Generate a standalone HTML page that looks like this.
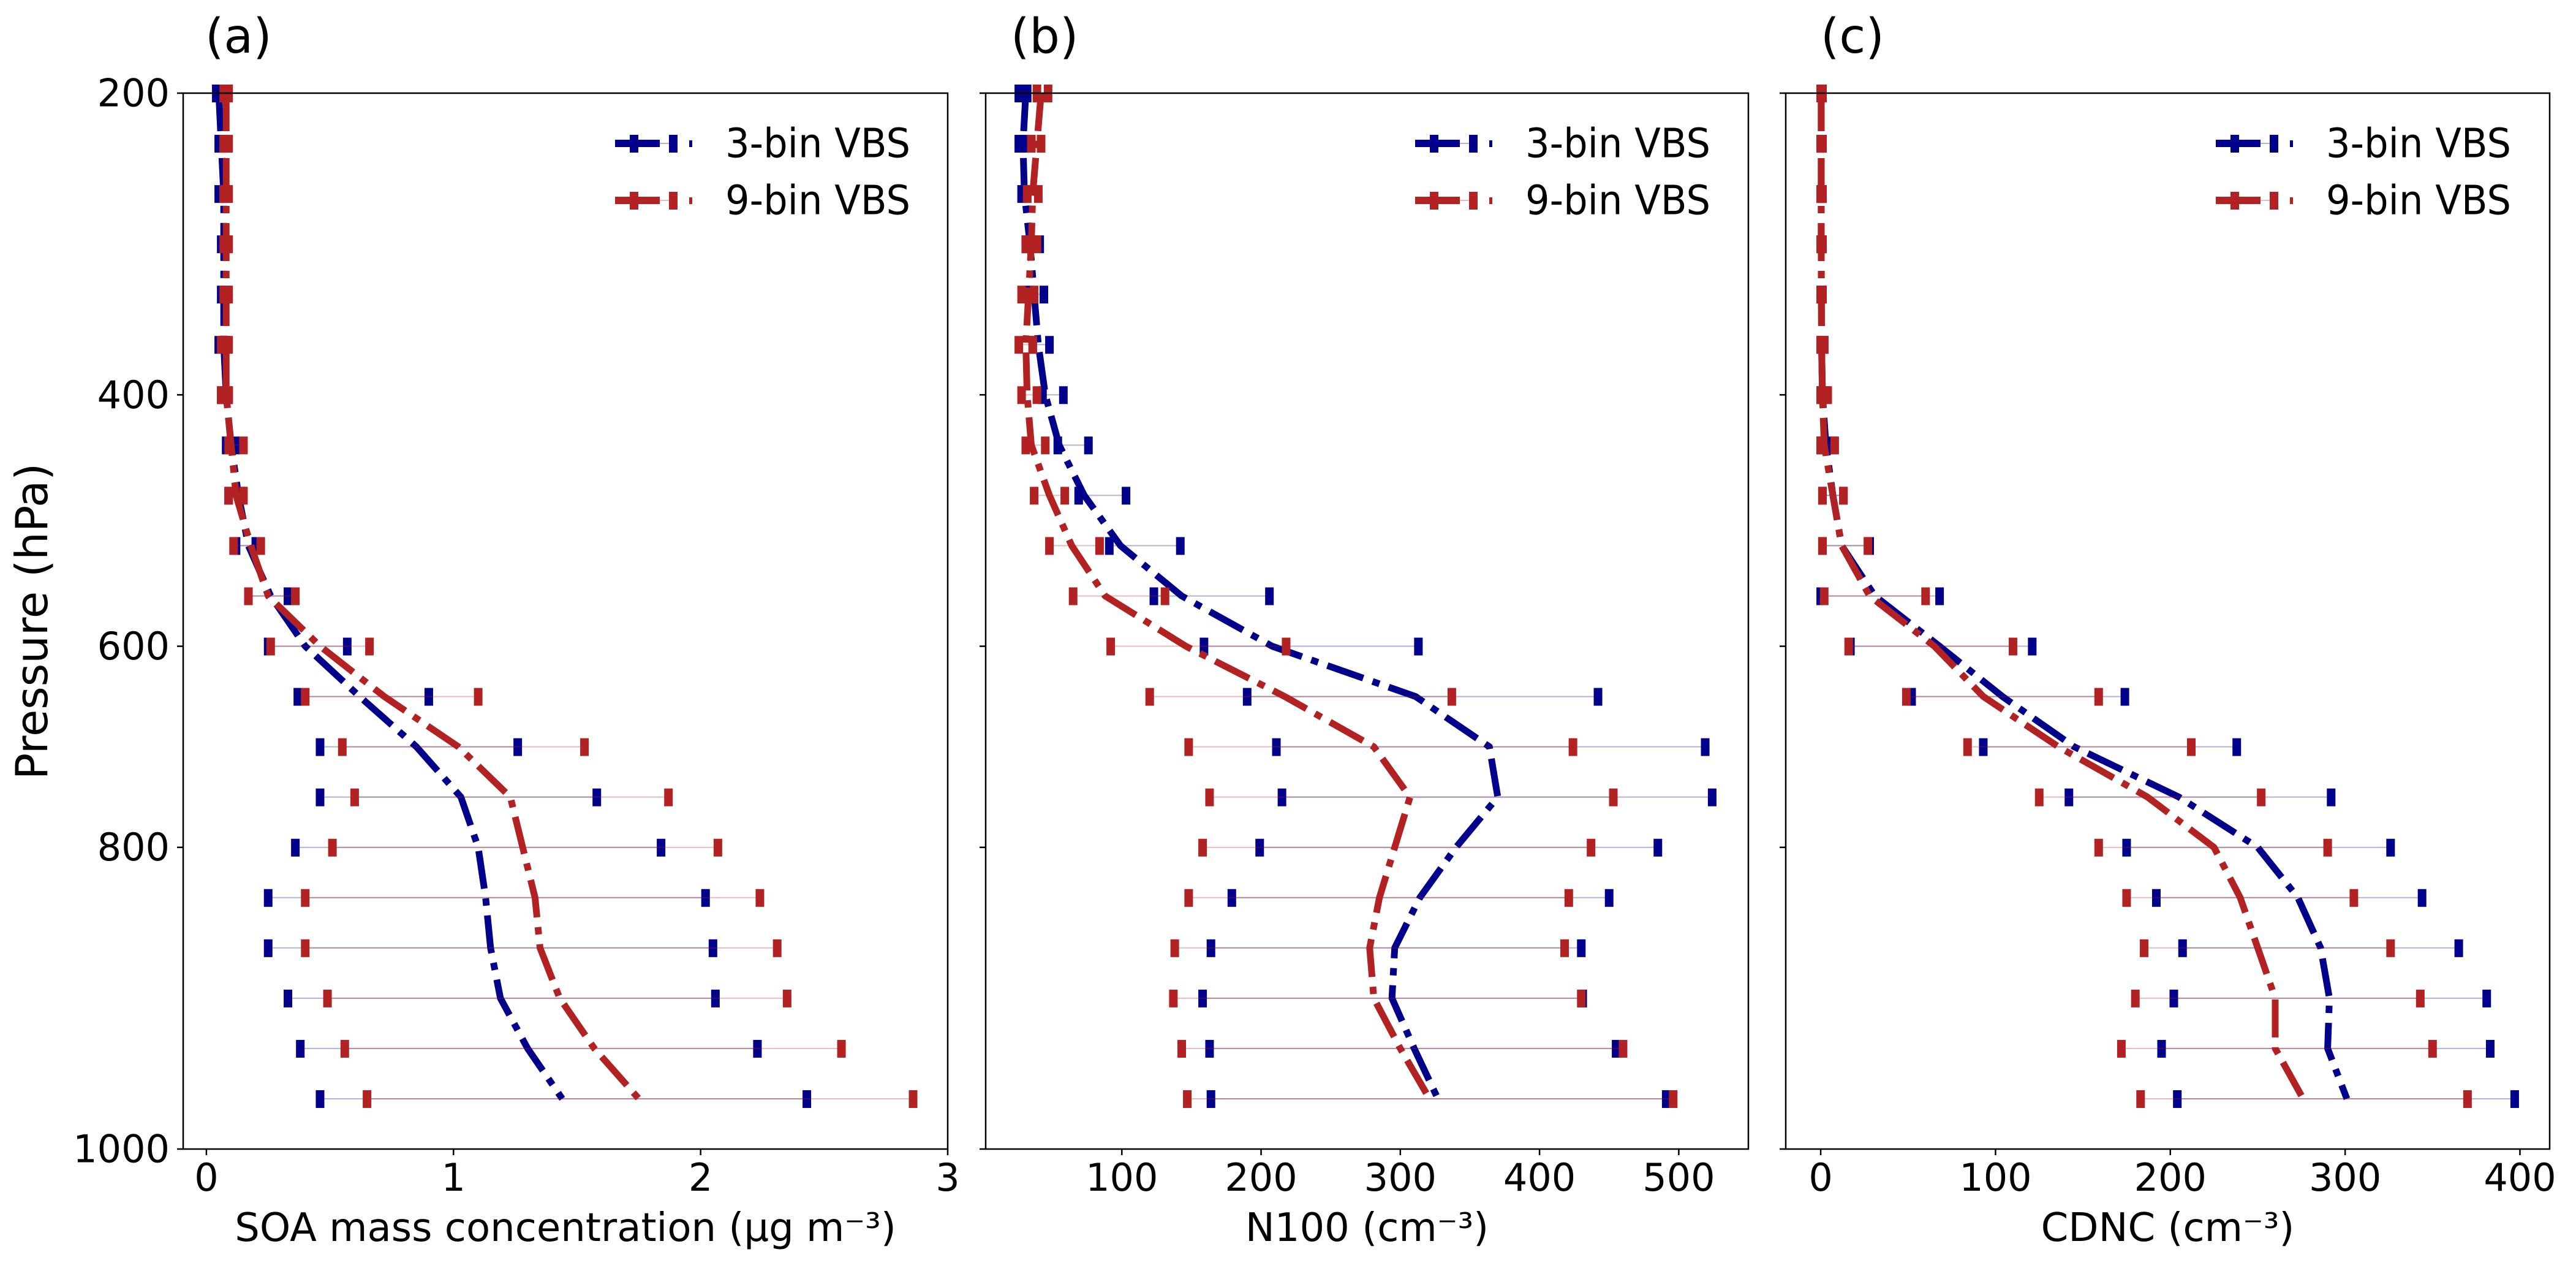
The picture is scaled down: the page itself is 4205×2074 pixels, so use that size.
<!DOCTYPE html>
<html><head><meta charset="utf-8"><style>
html,body{margin:0;padding:0;background:#fff;}
svg{display:block;font-family:"DejaVu Sans","Liberation Sans",sans-serif;}
</style></head><body>
<svg id="fig" width="4205" height="2074" viewBox="0 0 4205 2074" xmlns="http://www.w3.org/2000/svg">
<rect width="4205" height="2074" fill="#fff"/>
<text x="0" y="0" transform="translate(52,1014) rotate(-90)" font-size="72" text-anchor="middle" dominant-baseline="central">Pressure (hPa)</text>
</svg>
<script>
// ---- data ----
const tickIdx = [0, 6, 11, 15, 21];
const tickLabels = ["200", "400", "600", "800", "1000"];
// Panel (a) SOA
const soa3Mean = [0.05,0.06,0.07,0.07,0.07,0.07,0.08,0.10,0.13,0.17,0.26,0.40,0.62,0.85,1.03,1.10,1.13,1.15,1.19,1.30,1.44];
const soa3Lo = [0.04,0.05,0.05,0.06,0.06,0.05,0.06,0.08,0.09,0.12,0.17,0.25,0.37,0.46,0.46,0.36,0.25,0.25,0.33,0.38,0.46];
const soa3Hi = [0.06,0.07,0.08,0.08,0.08,0.08,0.09,0.12,0.14,0.20,0.33,0.57,0.90,1.26,1.58,1.84,2.02,2.05,2.06,2.23,2.43];
const soa9Mean = [0.08,0.08,0.08,0.08,0.08,0.08,0.08,0.10,0.12,0.18,0.25,0.46,0.72,1.02,1.23,1.28,1.33,1.35,1.43,1.57,1.75];
const soa9Lo = [0.07,0.07,0.07,0.07,0.07,0.06,0.06,0.09,0.09,0.11,0.17,0.26,0.40,0.55,0.60,0.51,0.40,0.40,0.49,0.56,0.65];
const soa9Hi = [0.09,0.09,0.09,0.09,0.09,0.09,0.09,0.15,0.15,0.22,0.36,0.66,1.10,1.53,1.87,2.07,2.24,2.31,2.35,2.57,2.86];
const soaTicks = [0, 1, 2, 3];
// Panel (b) N100
const n3Mean = [31,29,30,34,37,40,45,55,73,99,143,208,311,364,370,340,314,296,294,310,327];
const n3Lo = [26,26,28,31,33,36,43,54,69,91,123,159,190,211,215,199,179,164,158,163,164];
const n3Hi = [32,30,32,41,44,48,58,76,103,142,206,313,442,519,524,485,450,430,431,455,491];
const n9Mean = [42,39,36,35,33,31,32,35,48,64,88,146,217,281,307,296,285,278,281,300,321];
const n9Lo = [39,35,32,31,28,26,28,31,37,48,65,92,120,148,163,158,148,138,137,143,147];
const n9Hi = [47,42,40,39,37,36,39,45,59,84,131,218,337,424,453,437,421,418,430,460,496];
const nTicks = [100, 200, 300, 400, 500];
// Panel (c) CDNC
const c3Mean = [0.3,0.3,0.3,0.3,0.4,0.5,1,3,7,12,31,68,104,145,205,250,273,286,291,290,301];
const c3Lo = [0,0,0,0,0,0,0,0,1,1,0,17,52,93,142,175,192,207,202,195,204];
const c3Hi = [1,1,1,1,1,2,3,7,13,28,68,121,174,238,292,326,344,365,381,383,397];
const c9Mean = [0.3,0.3,0.3,0.3,0.4,0.5,1,2,7,12,28,65,93,136,187,225,240,250,260,260,276];
const c9Lo = [0,0,0,0,0,0,0,0,1,1,2,16,49,84,125,159,175,185,180,172,183];
const c9Hi = [1,1,1,1,1,2,4,8,13,27,60,110,159,212,252,290,305,326,343,350,370];
const cTicks = [0, 100, 200, 300, 400];

const NS = "http://www.w3.org/2000/svg";
const svg = document.getElementById('fig');
const TOP = 152, BOT = 1875, NIDX = 21;
const BLUE = "#00008B", RED = "#B22222";
function yPos(i){ return TOP + i * (BOT - TOP) / NIDX; }
function mk(tag, attrs, parent){
  const e = document.createElementNS(NS, tag);
  for (const k in attrs) e.setAttribute(k, attrs[k]);
  (parent || svg).appendChild(e);
  return e;
}

const panels = [
  {id:'a', L:299, R:1547, x0:-0.094, x1:3.0, ticks:soaTicks, tl:soaTicks.map(String), title:"SOA mass concentration (μg m⁻³)", ylabels:true,
   s3:[soa3Mean,soa3Lo,soa3Hi], s9:[soa9Mean,soa9Lo,soa9Hi], lab:"(a)", labX:335, legX:1004},
  {id:'b', L:1609, R:2854, x0:2.2, x1:550, ticks:nTicks, tl:nTicks.map(String), title:"N100 (cm⁻³)", ylabels:false,
   s3:[n3Mean,n3Lo,n3Hi], s9:[n9Mean,n9Lo,n9Hi], lab:"(b)", labX:1650, legX:2310},
  {id:'c', L:2915, R:4162, x0:-20, x1:417, ticks:cTicks, tl:cTicks.map(String), title:"CDNC (cm⁻³)", ylabels:false,
   s3:[c3Mean,c3Lo,c3Hi], s9:[c9Mean,c9Lo,c9Hi], lab:"(c)", labX:2972, legX:3617}
];

panels.forEach(p => {
  const g = mk('g', {});
  
  
  const xs = v => p.L + (v - p.x0) / (p.x1 - p.x0) * (p.R - p.L);

  function series(data, color, name){
    const [mean, lo, hi] = data;
    const sg = mk('g', {}, g);
    
    
    for (let i = 0; i < mean.length; i++){
      const y = yPos(i);
      const el = mk('line', {x1:xs(lo[i]), x2:xs(hi[i]), y1:y, y2:y, stroke:color, 'stroke-width':2, 'stroke-opacity':0.3}, sg);
      
      
      [lo[i], hi[i]].forEach(v => {
        const c = mk('rect', {x:xs(v)-7, y:y-14, width:14, height:29, fill:color}, sg);
        
        
      });
    }
    const pts = mean.map((v,i) => xs(v).toFixed(1) + ',' + yPos(i).toFixed(1)).join(' ');
    const pl = mk('polyline', {points:pts, fill:'none', stroke:color, 'stroke-width':11, 'stroke-dasharray':'62 16 12 16', 'stroke-linejoin':'round'}, sg);
    
    
  }
  series(p.s3, BLUE, 'series-3bin-' + p.id);
  series(p.s9, RED, 'series-9bin-' + p.id);

  const fr = mk('rect', {x:p.L, y:TOP, width:p.R-p.L, height:BOT-TOP, fill:'none', stroke:'#000', 'stroke-width':2.5}, g);
  
  

  tickIdx.forEach((ti, k) => {
    const y = yPos(ti);
    const t = mk('line', {x1:p.L-10, x2:p.L, y1:y, y2:y, stroke:'#000', 'stroke-width':2.5}, g);
    
    
    if (p.ylabels){
      const tx = mk('text', {x:p.L-22, y:y, 'font-size':62, 'text-anchor':'end', 'dominant-baseline':'central'}, g);
      tx.textContent = tickLabels[k];
      
      
    }
  });
  p.ticks.forEach((v, k) => {
    const x = xs(v);
    const t = mk('line', {x1:x, x2:x, y1:BOT, y2:BOT+10, stroke:'#000', 'stroke-width':2.5}, g);
    
    
    const tx = mk('text', {x:x, y:1943, 'font-size':62, 'text-anchor':'middle'}, g);
    tx.textContent = p.tl[k];
    
    
  });
  const xt = mk('text', {x:(p.L+p.R)/2, y:2025, 'font-size':64, 'text-anchor':'middle'}, g);
  xt.textContent = p.title;
  
  

  const pl = mk('text', {x:p.labX, y:60, 'font-size':78, 'dominant-baseline':'central'}, g);
  pl.textContent = p.lab;
  
  

  [[BLUE, '3-bin VBS', 234], [RED, '9-bin VBS', 327]].forEach(([col, txt, ly]) => {
    const lg = mk('g', {}, g);
    
    
    const x0 = p.legX;
    mk('rect', {x:x0, y:ly-6, width:73, height:12, fill:col}, lg);
    mk('rect', {x:x0+24, y:ly-14, width:14, height:29, fill:col}, lg);
    mk('line', {x1:x0+73, x2:x0+88, y1:ly, y2:ly, stroke:col, 'stroke-width':2, 'stroke-opacity':0.3}, lg);
    mk('rect', {x:x0+88, y:ly-14, width:14, height:29, fill:col}, lg);
    mk('rect', {x:x0+121, y:ly-5, width:5, height:11, fill:col}, lg);
    const t = mk('text', {x:x0+180, y:ly, 'font-size':66, 'dominant-baseline':'central', textLength:302, lengthAdjust:'spacingAndGlyphs'}, lg);
    t.textContent = txt;
    
    
  });
});
</script>
</body></html>
